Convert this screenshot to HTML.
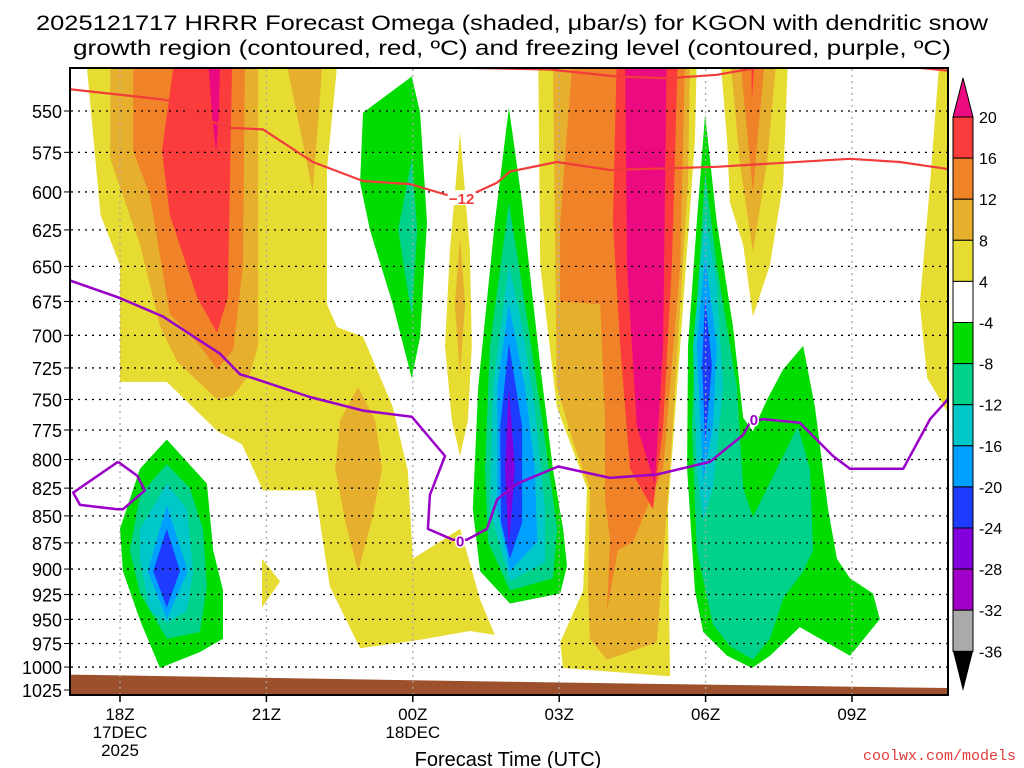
<!DOCTYPE html>
<html><head><meta charset="utf-8"><style>
html,body{margin:0;padding:0;background:#fff;}
svg{display:block;font-family:"Liberation Sans","DejaVu Sans",sans-serif;}
</style></head><body>
<svg id="chart" width="1024" height="768" viewBox="0 0 1024 768" xmlns="http://www.w3.org/2000/svg">
<defs><clipPath id="plotclip"><rect x="70" y="68" width="878" height="627"/></clipPath></defs>
<rect x="0" y="0" width="1024" height="768" fill="#fff"/>
<text x="512" y="30" text-anchor="middle" font-size="21" textLength="952" lengthAdjust="spacingAndGlyphs">2025121717 HRRR Forecast Omega (shaded, μbar/s) for KGON with dendritic snow</text>
<text x="512" y="55" text-anchor="middle" font-size="21" textLength="878" lengthAdjust="spacingAndGlyphs">growth region (contoured, red, ºC) and freezing level (contoured, purple, ºC)</text>
<g id="fills" clip-path="url(#plotclip)"></g>
<g id="grid"></g>
<g id="lines" clip-path="url(#plotclip)"></g>
<rect x="70" y="68" width="878" height="627" fill="none" stroke="#000" stroke-width="2"/>
<g id="yaxis"></g>
<g id="xaxis"></g>
<text x="508" y="766" text-anchor="middle" font-size="20">Forecast Time (UTC)</text>
<text x="1016" y="760" text-anchor="end" font-size="15" fill="#e03c3c" font-family="Liberation Mono, monospace">coolwx.com/models</text>
<g id="cbar"></g>
</svg>
<script>
// axis: hours after 18Z, pressure in hPa (log-pressure vertical axis)
const pressureTicks = [550,575,600,625,650,675,700,725,750,775,800,825,850,875,900,925,950,975,1000,1025];
const timeTickHours = [0,3,6,9,12,15];
const timeTickLabels = ["18Z","21Z","00Z","03Z","06Z","09Z"];
const dateLabels = [["17DEC","2025"],[],["18DEC"],[],[],[]];
const cbarLevels = [20,16,12,8,4,-4,-8,-12,-16,-20,-24,-28,-32,-36];
const cbarColors = ["#fa3c3c","#f08228","#e6af2d","#e6dc32","#ffffff","#00dc00","#00d28c","#00c8c8","#00a0ff","#1e3cff","#8200dc","#a000c8","#aaaaaa"];
const terrainHours = [-1.2, 8, 17.2];
const terrainP = [1008, 1016, 1023];
const Y="#e6dc32",G="#e6af2d",O="#f08228",R="#fa3c3c",M="#ec0a80",GR="#00dc00",T="#00d28c",C="#00c8c8",LB="#00a0ff",B="#1e3cff",PB="#8200dc";
const regions = [
 [Y,[-0.7,518,-0.4,615,0,649,0,736,0.96,736,2.0,776,2.5,787,2.93,827,4.0,827,4.3,917,4.92,980,6.15,971,7.17,962,7.68,966,7.38,930,6.97,862,6.0,890,5.9,810,5.59,756,4.98,701,4.45,694,4.24,677,4.24,586,4.47,518]],
 [G,[-0.2,518,-0.2,579,0.41,635,0.82,693,1.17,720,1.99,750,2.32,747,2.66,730,2.83,708,2.83,518]],
 [O,[0.27,518,0.27,574,0.61,602,1.02,684,1.64,708,1.99,726,2.32,711,2.52,649,2.56,518]],
 [R,[1.13,518,0.86,574,1.02,615,1.58,672,1.99,698,2.21,672,2.3,518]],
 [M,[1.8,518,1.89,554,1.97,575,2.03,551,2.05,518]],
 [G,[3.38,518,3.95,600,4.16,518]],
 [G,[4.88,740,4.51,767,4.41,808,4.61,854,4.88,902,5.16,854,5.37,808,5.23,767]],
 [Y,[2.91,890,3.28,912,2.91,938]],
 [Y,[6.97,563,6.76,639,6.66,708,6.8,767,6.97,797,7.13,767,7.21,708,7.17,639]],
 [G,[6.97,630,6.86,677,6.97,730,7.07,677]],
 [GR,[5.98,530,4.98,551,4.92,594,5.12,625,5.59,677,5.98,733,6.15,701,6.29,620,6.15,551]],
 [T,[5.98,579,5.7,625,5.98,686,6.09,625]],
 [GR,[0.96,783,0.41,808,0,862,0.06,902,0.41,951,0.82,1001,1.64,984,2.11,970,2.11,921,1.91,882,1.78,821]],
 [T,[0.96,804,0.41,831,0.2,882,0.41,924,0.96,970,1.64,963,1.78,917,1.7,862,1.43,825]],
 [C,[0.96,821,0.41,862,0.41,891,0.61,941,0.96,954,1.37,941,1.5,902,1.37,844]],
 [LB,[0.96,840,0.57,902,0.96,950,1.39,902]],
 [B,[0.96,862,0.68,902,0.96,938,1.23,902]],
 [Y,[8.57,518,8.61,649,8.95,756,9.57,825,9.49,921,9.02,974,9.08,1001,11.27,1010,11.23,844,11.48,708,11.78,568,11.82,518]],
 [G,[8.87,518,8.95,740,9.32,790,9.63,825,9.59,921,9.63,970,9.98,992,11.0,974,11.27,808,11.64,594,11.68,518]],
 [O,[9.28,518,9.02,620,9.02,675,9.84,677,9.94,767,9.94,836,10.04,872,9.98,941,10.2,882,10.51,874,11.13,808,11.48,649,11.58,518]],
 [R,[10.18,518,10.1,620,10.25,708,10.45,808,10.92,844,11.13,772,11.31,649,11.43,518]],
 [M,[10.35,518,10.39,649,10.59,772,10.96,821,11.13,708,11.2,518]],
 [GR,[7.97,548,7.68,620,7.34,740,7.23,844,7.38,902,7.99,934,9.02,924,9.16,897,9.08,862,8.87,808,8.61,723,8.24,607]],
 [T,[7.97,607,7.58,708,7.48,808,7.54,874,7.99,921,8.87,909,8.96,862,8.67,772,8.3,677]],
 [C,[7.97,649,7.64,740,7.58,844,7.99,912,8.71,893,8.71,844,8.5,756,8.24,693]],
 [LB,[7.97,677,7.73,740,7.73,844,7.99,902,8.55,874,8.5,808,8.3,740]],
 [B,[7.97,706,7.79,772,7.81,856,7.99,890,8.24,856,8.24,772]],
 [PB,[7.97,740,7.89,808,7.97,879,8.09,808]],
 [Y,[12.3,518,12.44,568,12.5,607,12.77,635,12.97,686,13.32,649,13.59,594,13.69,518]],
 [G,[12.5,518,12.7,581,12.97,640,13.26,581,13.46,518]],
 [O,[12.7,518,12.97,600,13.22,518]],
 [R,[12.93,518,12.95,544,13.01,518]],
 [GR,[11.99,552,12.23,620,12.56,693,12.77,765,12.97,776,13.26,750,13.59,726,14.0,708,14.24,756,14.51,844,14.69,890,14.96,909,15.43,924,15.57,950,14.96,988,13.93,958,13.32,988,12.95,1001,12.44,988,11.95,963,11.78,921,11.62,808,11.64,708,11.82,620]],
 [T,[11.99,588,11.82,677,11.72,772,11.82,882,12.15,955,12.5,978,12.97,992,13.32,970,13.59,929,14.0,902,14.2,882,14.14,808,13.89,772,12.97,851,12.77,825,12.64,740,12.23,649]],
 [C,[11.99,615,11.74,708,11.82,808,11.95,854,12.15,825,12.36,740,12.23,663]],
 [LB,[11.99,643,11.82,708,11.95,818,12.15,772,12.23,708]],
 [B,[11.99,672,11.93,723,11.99,787,12.13,723]],
 [Y,[16.8,518,16.6,594,16.39,677,16.54,733,17.0,763,17.2,763,17.2,518]]
];
// -12C isotherm segments
const isoHours = [-1.1,0.82,1.02,1.95,2.25,2.93,3.95,4.98,5.94,6.7,7.32,7.73,7.99,8.95,10.04,12.23,14.96,15.98,17.1];
const isoP = [537,543,544,557,560,561,581,593,595,602,600,594,587,581,586,584,579,581,586];
const isoTopHours = [5.6,6.97,8.81,10.18,11.21,12.23,13.26];
const isoTopP = [524,525,526,530,531,529,524];
const isoRightHours = [16.0,16.33,17.1];
const isoRightP = [523,525,527];
// freezing level (0C)
const frzHours = [-1.1,-0.04,0.88,2.05,2.46,2.73,3.89,4.98,5.98,6.66,6.35,6.31,6.82,7.11,7.52,7.73,8.14,8.98,10.04,11.0,12.09,12.77,12.91,13.18,13.93,14.61,14.96,16.05,16.6,17.1];
const frzP = [659,672,686,714,730,733,748,759,764,797,831,862,872,872,862,835,821,806,816,813,802,779,769,766,769,797,808,808,766,744];
const frzLoopHours = [-0.04,-0.96,-0.82,-0.06,0.06,0.51,0.35,-0.04];
const frzLoopP = [802,829,840,844,844,827,814,802];

const NS="http://www.w3.org/2000/svg";
const xs = h => 120 + h*48.8;
const ys = p => 111 + 930.1*Math.log(p/550);
function mk(tag, parent, attrs){const e=document.createElementNS(NS,tag);for(const k in attrs)e.setAttribute(k,attrs[k]);parent.appendChild(e);return e;}
const fills=document.getElementById('fills');
regions.forEach((r,i)=>{
  const pts=[];for(let j=0;j<r[1].length;j+=2)pts.push(xs(r[1][j]).toFixed(1)+","+ys(r[1][j+1]).toFixed(1));
  const e=mk('polygon',fills,{points:pts.join(' '),fill:r[0]});
  
  
});
{const pts=[];for(let i=0;i<terrainHours.length;i++)pts.push(xs(terrainHours[i])+","+ys(terrainP[i]));
 pts.push(xs(terrainHours[terrainHours.length-1])+",700");pts.push(xs(terrainHours[0])+",700");
 const e=mk('polygon',fills,{points:pts.join(' '),fill:"#9c512c"});
 
 }
const grid=document.getElementById('grid');
pressureTicks.forEach(p=>{if(p>1000)return;
  const e=mk('line',grid,{x1:71,x2:947,y1:ys(p),y2:ys(p),stroke:"#000","stroke-width":1.3,"stroke-dasharray":"2,5"});
  
  });
timeTickHours.forEach(h=>{
  const e=mk('line',grid,{x1:xs(h),x2:xs(h),y1:69,y2:694,stroke:"#aaa","stroke-width":1.3,"stroke-dasharray":"2,4"});
  
  });
const lines=document.getElementById('lines');
function poly(hs,ps,color,w,name){const pts=hs.map((h,i)=>xs(h).toFixed(1)+","+ys(ps[i]).toFixed(1)).join(' ');
  const e=mk('polyline',lines,{points:pts,fill:"none",stroke:color,"stroke-width":w,"stroke-linejoin":"round"});
  
  }
poly(isoHours,isoP,"#f23c3c",2.2,'isotherm-minus12');
poly(isoTopHours,isoTopP,"#f23c3c",2.2,'isotherm-minus12-top');
poly(isoRightHours,isoRightP,"#f23c3c",2.2,'isotherm-minus12-right');
poly(frzHours,frzP,"#9a00c8",2.5,'freezing-level');
poly(frzLoopHours,frzLoopP,"#9a00c8",2.5,'freezing-level-loop');
{const r=mk('rect',lines,{x:xs(7.0)-14,y:ys(604)-8,width:28,height:15,fill:"#fff"});
 
 
 const e=mk('text',lines,{x:xs(7.0),y:ys(604)+6,"text-anchor":"middle","font-size":15,"font-weight":"bold",fill:"#f23c3c"});
 e.textContent="−12";
 
 }
{const e=mk('text',lines,{x:xs(6.97),y:ys(873)+6,"text-anchor":"middle","font-size":15,"font-weight":"bold",fill:"#9a00c8",stroke:"#fff","stroke-width":3,"paint-order":"stroke"});e.textContent="0";
 
 }
{const e=mk('text',lines,{x:xs(12.99),y:ys(766)+6,"text-anchor":"middle","font-size":15,"font-weight":"bold",fill:"#9a00c8",stroke:"#fff","stroke-width":3,"paint-order":"stroke"});e.textContent="0";
 
 }
const ya=document.getElementById('yaxis');
pressureTicks.forEach(p=>{
  const t=mk('text',ya,{x:62,y:ys(p)+7,"text-anchor":"end","font-size":18});t.textContent=p;
  
  
  const l=mk('line',ya,{x1:64,x2:70,y1:ys(p),y2:ys(p),stroke:"#000","stroke-width":1});
  
  });
const xa=document.getElementById('xaxis');
timeTickHours.forEach((h,i)=>{
  const l=mk('line',xa,{x1:xs(h),x2:xs(h),y1:695,y2:702,stroke:"#000","stroke-width":1.5});
  
  
  const t=mk('text',xa,{x:xs(h),y:720,"text-anchor":"middle","font-size":17});t.textContent=timeTickLabels[i];
  
  
  dateLabels[i].forEach((d,k)=>{const e=mk('text',xa,{x:xs(h),y:738+k*18,"text-anchor":"middle","font-size":17});e.textContent=d;
    
    });
});
const cb=document.getElementById('cbar');
const cbY = i => 117 + i*41.1;
{const e=mk('polygon',cb,{points:"953,117 973,117 963,78",fill:"#ec0a80",stroke:"#000","stroke-width":1});
 
 }
cbarColors.forEach((c,i)=>{const e=mk('rect',cb,{x:953,y:cbY(i),width:20,height:41.1,fill:c,stroke:"#000","stroke-width":1});
  
  });
{const e=mk('polygon',cb,{points:"953,"+cbY(13)+" 973,"+cbY(13)+" 963,691",fill:"#000"});
 
 }
cbarLevels.forEach((v,i)=>{const t=mk('text',cb,{x:979,y:cbY(i)+6,"font-size":16});t.textContent=v;
  
  });
</script>
</body></html>
